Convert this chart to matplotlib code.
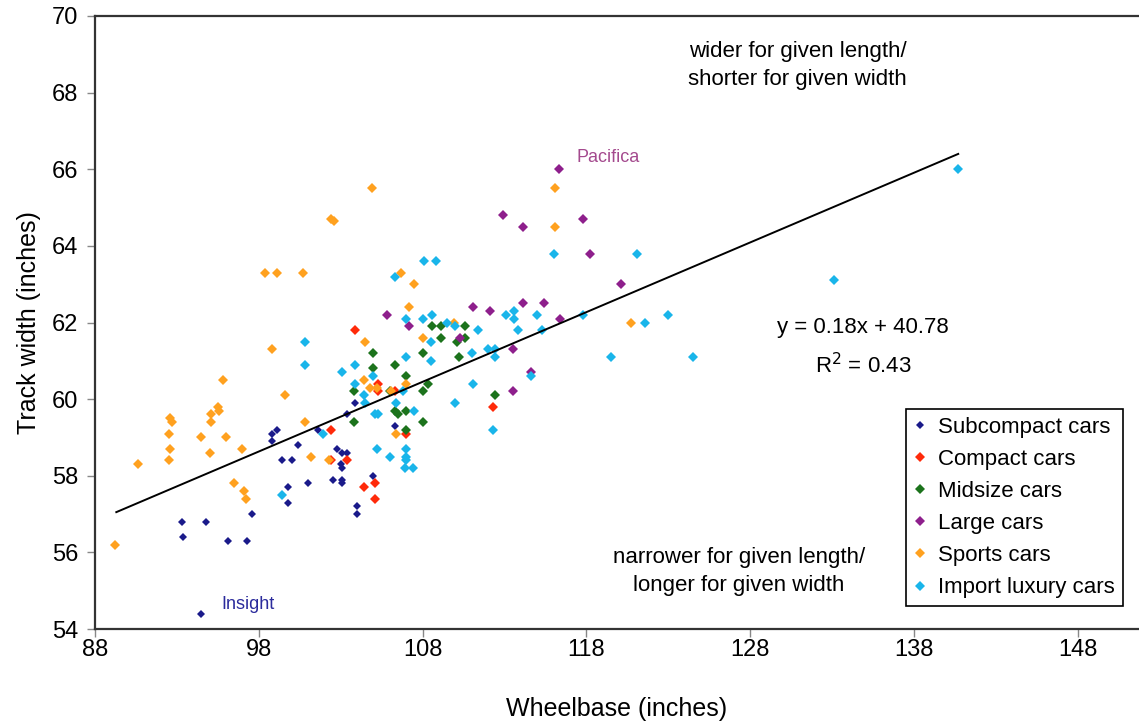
import matplotlib.pyplot as plt

plt.rcParams['font.family'] = ['Liberation Sans', 'DejaVu Sans']

# wheelbase (x) and track width (y), inches
sub_x = [93.3, 93.4, 94.8, 96.1, 97.3, 97.6, 94.5, 98.8, 99.1, 98.8, 99.4, 100.0, 100.4,
         99.8, 99.8, 101.0, 101.6, 102.5, 103.1, 103.1, 103.0, 103.1, 102.8, 103.1, 103.4,
         104.0, 104.0, 105.0, 103.9, 103.4, 106.3]
sub_y = [56.8, 56.4, 56.8, 56.3, 56.3, 57.0, 54.4, 59.1, 59.2, 58.9, 58.4, 58.4, 58.8,
         57.7, 57.3, 57.8, 59.2, 57.9, 57.9, 57.8, 58.3, 58.2, 58.7, 58.6, 58.6,
         57.2, 57.0, 58.0, 59.9, 59.6, 59.3]

compact_x = [103.9, 102.4, 105.3, 105.3, 106.3, 107.0, 102.4, 103.4, 104.4, 105.1, 105.1, 112.3]
compact_y = [61.8, 59.2, 60.4, 60.2, 60.2, 59.1, 58.4, 58.4, 57.7, 57.8, 57.4, 59.8]

mid_x = [103.8, 103.8, 105.0, 105.0, 106.0, 106.3, 106.3, 106.5, 107.0, 107.0, 107.0, 108.0,
         108.0, 108.0, 108.3, 108.6, 109.1, 109.1, 110.1, 110.6, 110.6, 110.2, 112.4]
mid_y = [60.2, 59.4, 61.2, 60.8, 60.2, 60.9, 59.7, 59.6, 60.6, 59.7, 59.2, 61.2,
         60.2, 59.4, 60.4, 61.9, 61.9, 61.6, 61.5, 61.9, 61.6, 61.1, 60.1]

large_x = [105.8, 107.2, 110.3, 111.1, 112.1, 112.9, 114.1, 114.1, 115.4, 116.3, 116.4,
           117.8, 118.2, 120.1, 113.5, 114.6, 113.5]
large_y = [62.2, 61.9, 61.6, 62.4, 62.3, 64.8, 64.5, 62.5, 62.5, 66.0, 62.1,
           64.7, 63.8, 63.0, 61.3, 60.7, 60.2]

sports_x = [89.2, 90.6, 92.6, 92.7, 92.5, 92.6, 92.5, 94.5, 95.0, 95.1, 95.1, 95.5, 95.6,
            95.8, 96.0, 97.0, 96.5, 97.1, 97.2, 98.4, 99.1, 100.7, 98.8, 99.6, 100.8,
            101.2, 102.3, 102.4, 102.6, 104.9, 104.5, 104.4, 104.8, 105.2, 106.1, 106.4,
            106.7, 107.5, 107.2, 108.0, 107.0, 109.9, 116.1, 116.1, 120.7]
sports_y = [56.2, 58.3, 59.5, 59.4, 59.1, 58.7, 58.4, 59.0, 58.6, 59.6, 59.4, 59.8, 59.7,
            60.5, 59.0, 58.7, 57.8, 57.6, 57.4, 63.3, 63.3, 63.3, 61.3, 60.1, 59.4,
            58.5, 58.4, 64.7, 64.65, 65.5, 61.5, 60.5, 60.3, 60.3, 60.2, 59.1,
            63.3, 63.0, 62.4, 61.6, 60.4, 62.0, 65.5, 64.5, 62.0]

lux_x = [99.4, 100.8, 100.8, 101.9, 103.1, 103.9, 103.9, 104.4, 104.5, 105.0, 105.1, 105.3,
         105.2, 106.0, 106.3, 106.4, 106.8, 107.0, 107.0, 107.0, 107.0, 107.0, 106.9, 107.4,
         107.5, 108.1, 108.8, 108.0, 108.6, 108.5, 108.5, 109.5, 110.0, 111.0, 112.0, 112.4,
         112.4, 111.1, 110.0, 111.4, 113.1, 113.6, 113.6, 113.8, 115.0, 115.3, 114.6, 112.3,
         116.0, 117.8, 119.5, 121.1, 121.6, 123.0, 124.5, 133.1, 140.7]
lux_y = [57.5, 61.5, 60.9, 59.1, 60.7, 60.9, 60.4, 60.1, 59.9, 60.6, 59.6, 59.6,
         58.7, 58.5, 63.2, 59.9, 60.2, 62.1, 61.1, 58.7, 58.5, 58.4, 58.2, 58.2,
         59.7, 63.6, 63.6, 62.1, 62.2, 61.5, 61.0, 62.0, 61.9, 61.2, 61.3, 61.3,
         61.1, 60.4, 59.9, 61.8, 62.2, 62.3, 62.1, 61.8, 62.2, 61.8, 60.6, 59.2,
         63.8, 62.2, 61.1, 63.8, 62.0, 62.2, 61.1, 63.1, 66.0]

# linear trend line end points
trend_x = [89.3, 140.7]
trend_y = [57.05, 66.4]

fig = plt.figure(figsize=(11.39, 7.25), dpi=100)
ax = fig.add_axes([95 / 1139, 1 - 629 / 725, 1044 / 1139, 613 / 725])

series = [
    (sub_x, sub_y, '#1a1a8a', 4.3, 'Subcompact cars'),
    (compact_x, compact_y, '#ff2a0a', 5.4, 'Compact cars'),
    (mid_x, mid_y, '#1c731c', 5.4, 'Midsize cars'),
    (large_x, large_y, '#8e1f8c', 5.4, 'Large cars'),
    (sports_x, sports_y, '#ffa11f', 5.4, 'Sports cars'),
    (lux_x, lux_y, '#19b5ea', 5.4, 'Import luxury cars'),
]
for xs, ys, col, ms, lab in series:
    ax.plot(xs, ys, linestyle='none', marker='D', ms=ms, color=col,
            markeredgewidth=0, label=lab)

ax.plot(trend_x, trend_y, color='black', lw=1.4)

ax.set_xlim(88, 88 + 1044 / 16.38)
ax.set_ylim(54, 70)
ax.set_xticks(range(88, 149, 10))
ax.set_yticks(range(54, 71, 2))
ax.tick_params(labelsize=17, direction='out', length=6, width=1, color='#888888')
ax.tick_params(axis='x', pad=1)
ax.tick_params(axis='y', pad=6)
for s in ['left', 'bottom', 'top']:
    ax.spines[s].set_color('#333333')
    ax.spines[s].set_linewidth(1.6)
ax.spines['right'].set_visible(False)

ax.set_xlabel('Wheelbase (inches)', fontsize=18, labelpad=26)
ax.set_ylabel('Track width (inches)', fontsize=18, labelpad=8)

ax.text(130.9, 68.7, 'wider for given length/\nshorter for given width',
        ha='center', va='center', fontsize=16, linespacing=1.42)
ax.text(127.3, 55.5, 'narrower for given length/\nlonger for given width',
        ha='center', va='center', fontsize=16, linespacing=1.42)
ax.text(134.9, 61.86, 'y = 0.18x + 40.78', ha='center', va='center', fontsize=16)
ax.text(134.9, 60.87, 'R$^2$ = 0.43', ha='center', va='center', fontsize=16)
ax.text(95.7, 54.65, 'Insight', color='#2b2b9c', fontsize=13, va='center')
ax.text(117.4, 66.3, 'Pacifica', color='#a44a8e', fontsize=13, va='center')

leg = ax.legend(loc='upper left', bbox_to_anchor=(906 / 1139, 1 - 409 / 725),
                bbox_transform=fig.transFigure, fontsize=16, frameon=True,
                fancybox=False, edgecolor='black', framealpha=1,
                handlelength=0.6, handletextpad=0.5, labelspacing=0.5,
                borderpad=0.35, borderaxespad=0)
leg.get_frame().set_linewidth(1.2)

fig.savefig('out.png', dpi=100)
